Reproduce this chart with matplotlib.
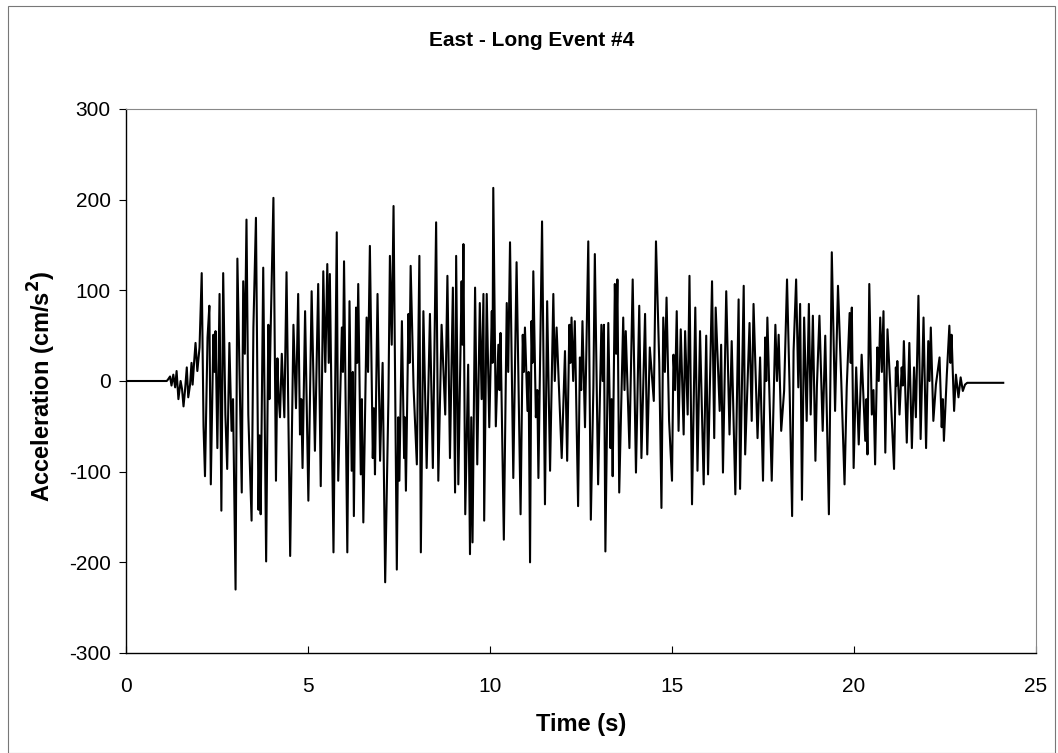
import matplotlib
matplotlib.use("Agg")
import matplotlib.pyplot as plt
from matplotlib.patches import Rectangle

plt.rcParams['font.family'] = ['Liberation Sans', 'DejaVu Sans']
plt.rcParams['axes.unicode_minus'] = False

title = "East - Long Event #4"
x_label = "Time (s)"
y_label = "Acceleration (cm/s$^\\mathbf{2}$)"
x_ticks = [0, 5, 10, 15, 20, 25]
y_ticks = [-300, -200, -100, 0, 100, 200, 300]

# peak times (s) and accelerations (cm/s^2)
time_s = [
    0.00, 1.12, 1.16, 1.21, 1.25, 1.30, 1.35, 1.39, 1.44, 1.50, 1.54, 1.58, 1.62, 1.67, 1.71, 1.76,
    1.80, 1.83, 1.87, 1.91, 1.96, 2.02, 2.08, 2.13, 2.17, 2.24, 2.29, 2.33, 2.40, 2.435, 2.46, 2.51,
    2.57, 2.62, 2.67, 2.73, 2.78, 2.84, 2.90, 2.94, 2.97, 3.01, 3.06,
    3.18, 3.22, 3.265, 3.31, 3.36, 3.45, 3.50, 3.57, 3.64, 3.67, 3.70, 3.77, 3.85, 3.91, 3.94, 3.97,
    4.05, 4.12, 4.16, 4.19, 4.23, 4.28, 4.35, 4.41, 4.51, 4.60, 4.67, 4.73, 4.78, 4.815, 4.85, 4.92,
    5.01, 5.10, 5.19, 5.28, 5.35, 5.42, 5.475, 5.53, 5.57, 5.60, 5.70, 5.79, 5.83, 5.93, 5.96, 5.99,
    6.08, 6.14,
    6.20, 6.23, 6.26, 6.32, 6.35, 6.38, 6.45, 6.48, 6.52, 6.61, 6.65, 6.70, 6.78, 6.81, 6.84, 6.91,
    6.98, 7.05, 7.12, 7.21, 7.25, 7.30, 7.35, 7.44, 7.48, 7.51, 7.58, 7.64, 7.66, 7.69, 7.76, 7.79,
    7.82, 7.90, 7.99, 8.06, 8.10, 8.17, 8.26, 8.35, 8.43, 8.52, 8.58, 8.67, 8.77, 8.83, 8.90, 8.98,
    9.04,
    9.07, 9.13, 9.22, 9.245, 9.27, 9.32, 9.40, 9.45, 9.485, 9.52, 9.59, 9.65, 9.72, 9.77, 9.82, 9.84,
    9.91, 9.98, 10.05, 10.07, 10.09, 10.16, 10.23, 10.26, 10.29, 10.38, 10.46, 10.50, 10.55, 10.64,
    10.73, 10.84, 10.90, 10.93, 10.96, 11.03, 11.06, 11.10, 11.14, 11.165, 11.19, 11.26, 11.30, 11.33,
    11.43, 11.51, 11.57, 11.65, 11.74, 11.78, 11.83,
    11.97, 12.06, 12.12, 12.18, 12.21, 12.24, 12.285, 12.33, 12.42, 12.47, 12.505, 12.54, 12.61, 12.70,
    12.77, 12.84, 12.88, 12.97, 13.06, 13.095, 13.13, 13.17, 13.25, 13.31, 13.34, 13.37, 13.43, 13.465,
    13.50, 13.55, 13.66, 13.695, 13.73, 13.83, 13.92, 14.01, 14.10, 14.16, 14.26, 14.32, 14.39, 14.50,
    14.56, 14.65, 14.71, 14.76, 14.805, 14.85, 14.92,
    15.00, 15.04, 15.085, 15.13, 15.18, 15.24, 15.32, 15.36, 15.43, 15.48, 15.55, 15.64, 15.70, 15.77,
    15.87, 15.94, 15.99, 16.10, 16.16, 16.20, 16.31, 16.35, 16.40, 16.49, 16.58, 16.64, 16.74, 16.83,
    16.87, 16.97, 17.01, 17.13, 17.19, 17.24, 17.35, 17.42, 17.50, 17.56, 17.59, 17.62, 17.74, 17.84,
    17.885, 17.93, 18.00, 18.08, 18.16,
    18.23, 18.30, 18.34, 18.41, 18.47, 18.52, 18.57, 18.63, 18.70, 18.76, 18.81, 18.87, 18.94, 18.98,
    19.05, 19.14, 19.21, 19.31, 19.39, 19.48, 19.56, 19.65, 19.74, 19.80, 19.88, 19.91, 19.94, 19.99,
    20.06, 20.13, 20.21, 20.31, 20.34, 20.37, 20.42, 20.49, 20.535, 20.58, 20.64, 20.68, 20.72, 20.765,
    20.81, 20.86, 20.92, 21.01,
    21.10, 21.15, 21.17, 21.19, 21.25, 21.31, 21.34, 21.37, 21.45, 21.52, 21.59, 21.65, 21.70, 21.77,
    21.83, 21.91, 21.98, 22.04, 22.075, 22.11, 22.18, 22.25, 22.35, 22.41, 22.44, 22.47, 22.55, 22.62,
    22.65, 22.68, 22.75, 22.80, 22.87, 22.93, 22.99, 23.05, 23.11, 24.10,
]
accel = [
    0, 0, 2, 5, -5, 7, -7, 11, -20, 0, -9, -28, -11, 15, -18, -4,
    20, -4, 20, 42, 11, 37, 119, -50, -105, 48, 83, -114, 51, 10, 55, -74,
    96, -143, 119, -37, -97, 42, -55, -20, -110, -230, 135,
    -123, 110, 30, 178, -37, -154, 59, 180, -142, -60, -147, 125, -199, 62, -20, 48,
    202, -110, 25, -15, -40, 30, -40, 120, -193, 62, -30, 96, -59, -20, -96, 77,
    -132, 99, -77, 107, -116, 121, 10, 129, 20, 118, -189, 164, -110, 59, 10, 132,
    -189, 88,
    -99, 10, -149, 81, 20, 107, -103, -20, -156, 70, 10, 149, -85, -30, -103, 96,
    -88, 20, -222, -18, 138, 40, 193, -208, -40, -110, 66, -85, -40, -121, 74, 20,
    127, -7, -92, 138, -189, 77, -96, 74, -96, 175, -110, 62, -37, 116, -85, 103,
    -123,
    138, -114, 110, 40, 151, -147, 18, -191, -40, -178, 103, -92, 86, -20, 96, -154,
    96, -51, 77, 20, 213, -50, 40, -10, 53, -175, 86, 10, 153, -107,
    131, -147, 51, 10, 59, -33, 10, -200, 66, 20, 121, -40, -10, -107,
    176, -136, 88, -99, 96, 0, 59,
    -85, 33, -88, 62, 20, 70, 0, 66, -138, 26, -10, 66, -51, 154,
    -153, -7, 140, -114, 62, 0, 62, -188, 64, -74, -20, -105, 107, 30,
    112, -123, 70, -10, 55, -74, 112, -101, 83, -85, 74, -81, 37, -22,
    154, 20, -140, 70, 10, 92, -44,
    -110, 29, -10, 77, -55, 57, -59, 55, -37, 116, -136, 81, -99, 55,
    -114, 50, -103, 110, -63, 81, -33, 40, -101, 99, -59, 44, -125, 90,
    -119, 105, -81, 64, -44, 85, -63, 26, -110, 48, 0, 70, -110, 62,
    0, 51, -55, -11, 112,
    -7, -149, 33, 112, -7, 85, -131, 70, -44, 85, -37, 72, -88, -7,
    72, -55, 50, -147, 142, -33, 105, 0, -114, -7, 75, 20, 81, -96,
    15, -70, 29, -66, -20, -81, 107, -37, -10, -92, 37, 0, 70, 10,
    77, -79, 57, -18,
    -97, 15, -5, 22, -37, 15, -5, 44, -68, 42, -74, 15, -40, 94,
    -64, 70, -74, 44, 0, 59, -44, -4, 26, -51, -20, -66, 7, 61,
    20, 51, -33, 7, -18, 4, -11, -4, -2, -2,
]

fig = plt.figure(figsize=(10.58, 7.53), dpi=100)
fig.patches.append(Rectangle((8 / 1058, 0.0), 1047 / 1058, 1 - 6 / 753,
                             transform=fig.transFigure, fill=False,
                             edgecolor='#777777', linewidth=0.8))
ax = fig.add_axes([126 / 1058, 1 - 653 / 753, 910 / 1058, 544 / 753])
ax.plot(time_s, accel, color='black', linewidth=1.5)

ax.set_xlim(0, 25)
ax.set_ylim(-300, 300)
ax.set_xticks(x_ticks)
ax.set_yticks(y_ticks)
ax.tick_params(axis='y', direction='out', length=5, labelsize=15, pad=6)
ax.tick_params(axis='x', direction='in', length=5, labelsize=15, pad=17)
for s in ['top', 'right']:
    ax.spines[s].set_color('#888888')
    ax.spines[s].set_linewidth(0.8)
for s in ['left', 'bottom']:
    ax.spines[s].set_color('black')
    ax.spines[s].set_linewidth(1.0)

fig.text(532 / 1058, 1 - 41 / 753, title, fontsize=15, fontweight='bold',
         ha='center', va='center')
ax.set_xlabel(x_label, fontsize=17, fontweight='bold')
ax.set_ylabel(y_label, fontsize=17, fontweight='bold')
ax.xaxis.set_label_coords(0.5, -(713 - 653) / 544)
ax.yaxis.set_label_coords((58 - 126) / 910, 0.49)

fig.savefig("out.png", dpi=100)
